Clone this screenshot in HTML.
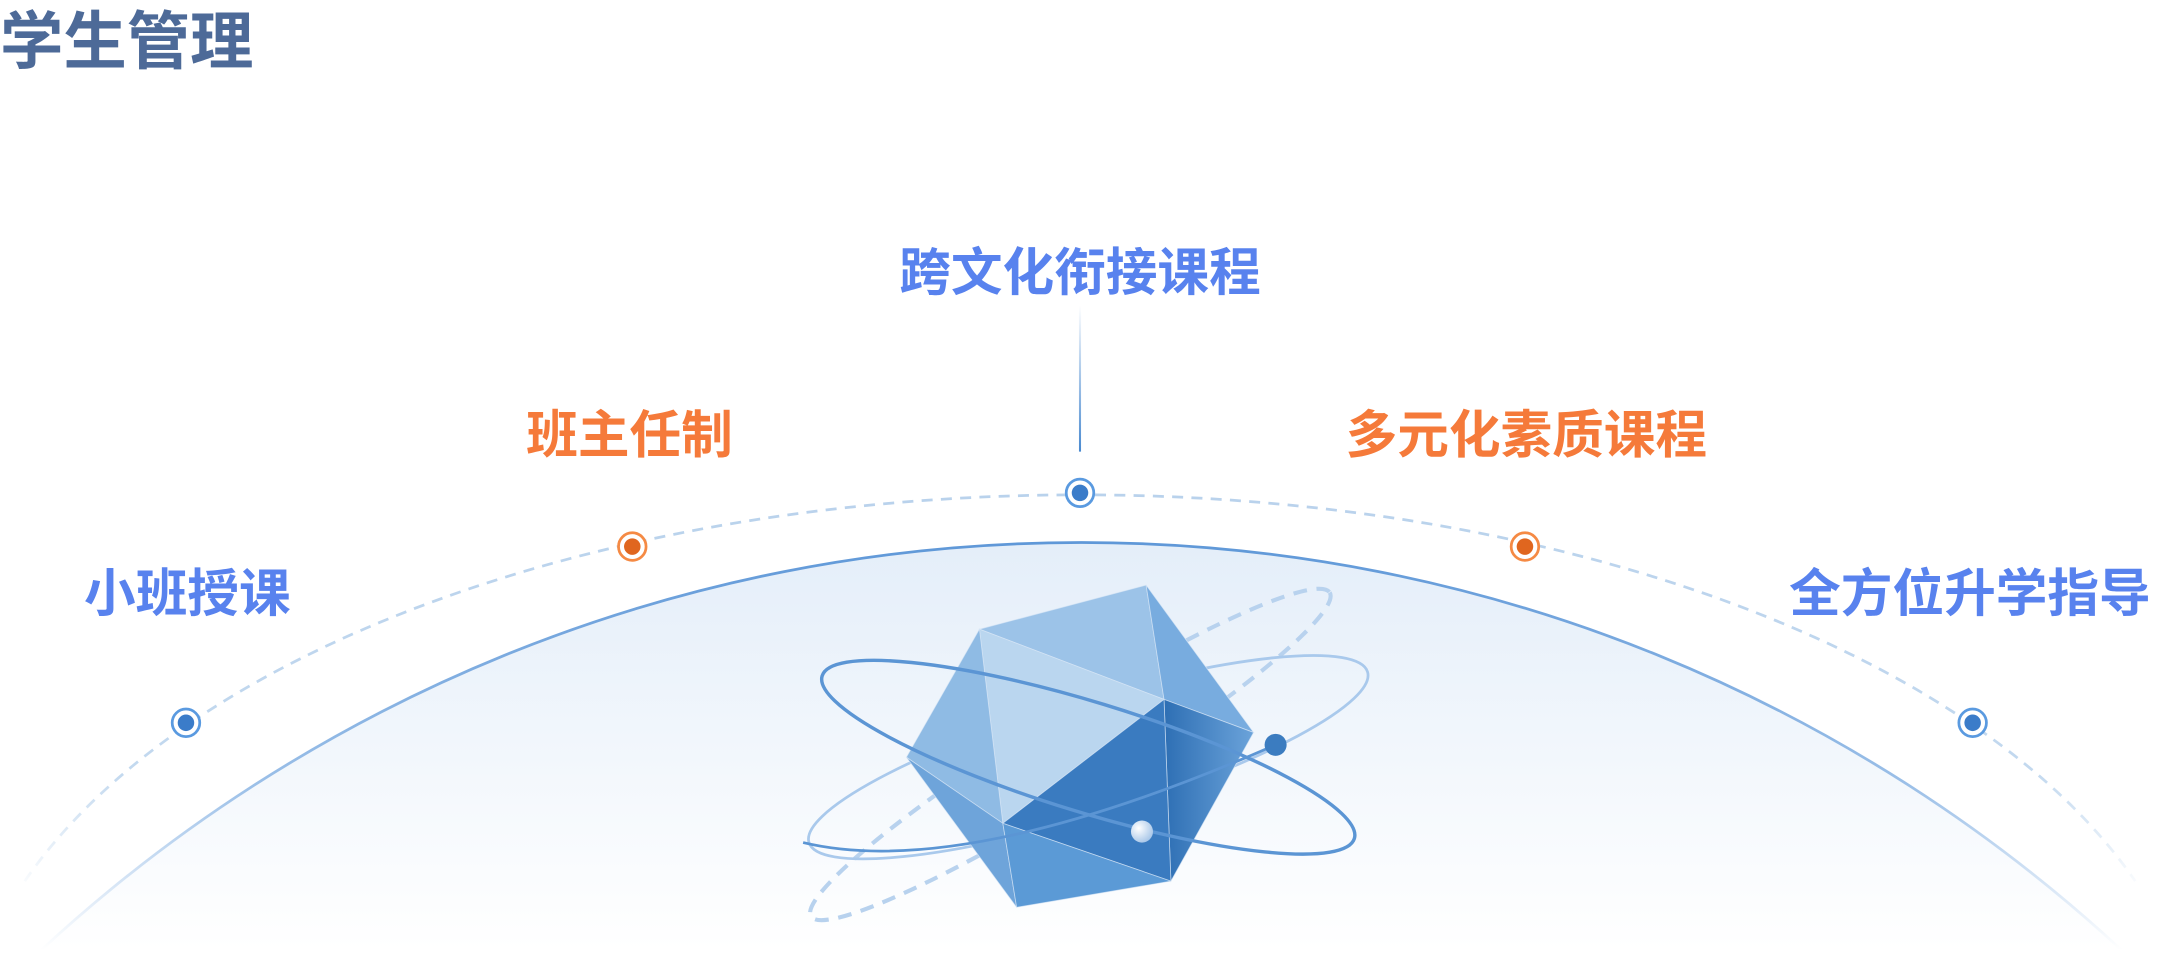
<!DOCTYPE html>
<html><head><meta charset="utf-8"><style>
html,body{margin:0;padding:0;background:#fff;}
body{width:2160px;height:972px;overflow:hidden;}
svg{display:block;}
text{font-family:"Liberation Sans","Noto Sans CJK SC",sans-serif;font-weight:bold;}
</style></head><body>
<svg width="2160" height="972" viewBox="0 0 1568 706" preserveAspectRatio="none" xmlns="http://www.w3.org/2000/svg">
<defs>
<linearGradient id="dome" x1="0" y1="0" x2="0" y2="1">
<stop offset="0" stop-color="#e4eef9"/><stop offset="1" stop-color="#ffffff"/></linearGradient>
<linearGradient id="domeS" x1="0" y1="0" x2="0" y2="1">
<stop offset="0" stop-color="#5f98d8"/><stop offset="0.6" stop-color="#9cc0e8"/><stop offset="1" stop-color="#ffffff"/></linearGradient>
<linearGradient id="vl" gradientUnits="userSpaceOnUse" x1="0" y1="222" x2="0" y2="328">
<stop offset="0" stop-color="#ffffff"/><stop offset="1" stop-color="#4a8ad0"/></linearGradient>
<linearGradient id="dash" gradientUnits="userSpaceOnUse" x1="0" y1="358" x2="0" y2="650">
<stop offset="0" stop-color="#b9d2ec"/><stop offset="0.7" stop-color="#c3d9ef"/><stop offset="1" stop-color="#ffffff"/></linearGradient>
<linearGradient id="dark" x1="0" y1="0" x2="1" y2="0">
<stop offset="0" stop-color="#2e6fb4"/><stop offset="1" stop-color="#6ba3da"/></linearGradient>
<radialGradient id="ball" cx="0.35" cy="0.35" r="0.7"><stop offset="0" stop-color="#ffffff"/><stop offset="1" stop-color="#a7c6e8"/></radialGradient>
</defs>
<text x="0" y="46" font-size="46" fill="#4d6a98">学生管理</text>

<path d="M30 690 A1111 1111 0 0 1 1540 690 Z" fill="url(#dome)"/>
<path d="M30 690 A1111 1111 0 0 1 1540 690" fill="none" stroke="url(#domeS)" stroke-width="2"/>

<path d="M18 640 A813 422 0 0 1 1550 640" fill="none" stroke="url(#dash)" stroke-width="2" stroke-dasharray="8 6"/>

<line x1="784" y1="222" x2="784" y2="328" stroke="url(#vl)" stroke-width="1.5"/>

<g stroke-width="2" fill="#fff">
<circle cx="135" cy="525" r="10" stroke="#5a9ae0"/><circle cx="135" cy="525" r="6" fill="#3b7cc9" stroke="none"/>
<circle cx="459" cy="397" r="10" stroke="#f58a44"/><circle cx="459" cy="397" r="6" fill="#e0661f" stroke="none"/>
<circle cx="784" cy="358" r="10" stroke="#5a9ae0"/><circle cx="784" cy="358" r="6" fill="#3b7cc9" stroke="none"/>
<circle cx="1107" cy="397" r="10" stroke="#f58a44"/><circle cx="1107" cy="397" r="6" fill="#e0661f" stroke="none"/>
<circle cx="1432" cy="525" r="10" stroke="#5a9ae0"/><circle cx="1432" cy="525" r="6" fill="#3b7cc9" stroke="none"/>
</g>

<g font-size="37.5" text-anchor="middle">
<text x="784" y="211" fill="#5882ee">跨文化衔接课程</text>
<text x="457" y="329" fill="#f57a3a">班主任制</text>
<text x="1108" y="329" fill="#f57a3a">多元化素质课程</text>
<text x="136" y="444" fill="#5882ee">小班授课</text>
<text x="1430" y="444" fill="#5882ee">全方位升学指导</text>
</g>

<ellipse cx="777" cy="548" rx="222" ry="30" transform="rotate(-32 777 548)" fill="none" stroke="#b8d2ee" stroke-width="3" stroke-dasharray="10 7"/>
<ellipse cx="790" cy="550" rx="212" ry="42" transform="rotate(-17 790 550)" fill="none" stroke="#a9c9ec" stroke-width="2"/>

<g stroke="#d8e7f6" stroke-width="0.6" stroke-opacity="0.7">
<polygon points="832,425 711,457 845,508" fill="#9cc3e8"/>
<polygon points="832,425 845,508 910,532" fill="#78acdf"/>
<polygon points="711,457 845,508 728,598" fill="#bad6ef"/>
<polygon points="711,457 658,550 728,598" fill="#8fbbe4"/>
<polygon points="845,508 910,532 850,640" fill="url(#dark)"/>
<polygon points="845,508 728,598 850,640" fill="#3a7bc0"/>
<polygon points="658,550 728,598 738,659" fill="#6ea4da"/>
<polygon points="728,598 738,659 850,640" fill="#5b9ad6"/>
</g>

<ellipse cx="790" cy="550" rx="202" ry="40" transform="rotate(17 790 550)" fill="none" stroke="#5b95d4" stroke-width="2.5"/>
<path d="M583 612 Q700 640 926 541" fill="none" stroke="#5b95d4" stroke-width="2"/>
<circle cx="926" cy="541" r="8" fill="#3b7cc0"/>
<circle cx="829" cy="604" r="8" fill="url(#ball)"/>
</svg>
</body></html>
